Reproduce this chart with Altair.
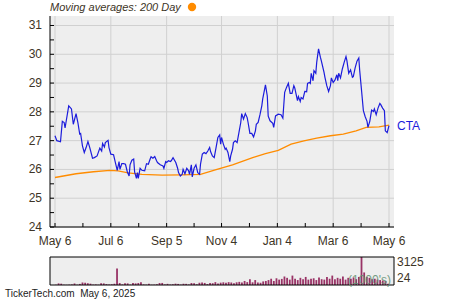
import altair as alt
import pandas as pd
import numpy as np

# ---------------- data ----------------
ticker = "CTA"
title_text = "Moving averages: 200 Day"
footer_text = "TickerTech.com\u00a0\u00a0May 6, 2025"
vol_unit_text = "(1000's)"

# days since May 6, 2024
price_day = [0, 2, 6, 8, 10, 11, 15, 18, 20, 23,
             25, 27, 28, 30, 32, 34, 36, 38, 41, 43,
             46, 49, 51, 52, 54, 55, 58, 59, 61, 64,
             66, 68, 70, 71, 73, 75, 77, 79, 81, 82,
             84, 86, 87, 89, 90, 91, 93, 95, 98, 100,
             102, 104, 105, 107, 109, 111, 112, 115, 118, 119,
             121, 122, 124, 126, 127, 129, 132, 134, 135, 137,
             139, 140, 142, 144, 146, 147, 149, 150, 152, 154,
             156, 158, 159, 161, 163, 165, 167, 169, 170, 172,
             174, 176, 178, 180, 181, 182, 184, 186, 187, 189,
             191, 192, 194, 195, 197, 199, 201, 203, 204, 206,
             208, 210, 211, 213, 215, 217, 219, 220, 222, 224,
             226, 227, 230, 232, 233, 235, 238, 239, 241, 244,
             247, 249, 251, 253, 255, 257, 259, 261, 262, 265,
             266, 268, 269, 271, 273, 275, 276, 278, 279, 280,
             282, 283, 285, 286, 288, 290, 291, 294, 295, 297,
             299, 301, 302, 304, 306, 308, 309, 310, 312, 314,
             316, 318, 319, 321, 323, 325, 326, 328, 330, 332,
             333, 335, 337, 339, 341, 342, 344, 346, 348, 349,
             351, 353, 355, 356, 358, 360, 361, 363, 365]

price_close = [27.17, 27.0, 26.96, 27.67, 27.63, 27.44, 28.21, 28.1, 27.57, 27.94,
               27.63, 27.23, 27.25, 26.82, 26.59, 26.76, 26.97, 26.76, 26.39, 26.41,
               26.47, 26.74, 26.64, 26.9, 26.78, 26.93, 27.01, 26.76, 26.53, 26.51,
               26.24, 25.97, 26.27, 26.0, 26.2, 26.2, 26.18, 25.92, 25.77, 26.16,
               26.32, 26.36, 25.91, 25.69, 25.89, 25.69, 26.04, 25.97, 25.95, 26.2,
               26.18, 26.36, 26.44, 26.39, 26.45, 26.3, 26.24, 26.16, 26.12, 26.04,
               26.27, 26.24, 26.3, 26.27, 26.3, 26.41, 26.24, 26.04, 25.89, 25.77,
               25.83, 26.0, 25.85, 26.04, 25.95, 25.83, 26.16, 25.74, 26.04, 26.16,
               25.89, 25.83, 26.18, 26.53, 26.59, 26.55, 26.64, 26.76, 26.62, 26.47,
               26.41, 26.76, 27.11, 27.2, 26.88, 27.11, 26.88, 26.7, 26.74, 26.59,
               26.27, 26.47, 26.7, 26.93, 26.99, 26.93, 27.28, 27.63, 27.94, 27.75,
               27.94, 27.8, 27.63, 27.25, 27.25, 27.13, 27.34, 27.57, 27.63, 27.9,
               28.21, 28.45, 28.94, 28.55, 27.85, 27.69, 27.6, 27.46, 27.86, 27.92,
               27.9, 27.78, 28.68, 28.85, 28.99, 28.64, 28.64, 28.91, 28.83, 28.39,
               28.53, 28.36, 28.5, 28.45, 28.71, 28.7, 28.99, 29.02, 28.99, 29.34,
               29.08, 29.43, 29.34, 29.72, 30.19, 29.9, 29.78, 29.37, 29.2, 28.91,
               28.71, 28.91, 29.18, 29.02, 29.11, 29.29, 29.08, 29.34, 29.18, 29.49,
               29.72, 29.92, 29.78, 29.34, 29.46, 29.2, 29.22, 29.53, 29.76, 29.87,
               29.43, 28.74, 28.04, 27.83, 27.67, 27.46, 27.67, 28.06, 28.01, 28.1,
               27.9, 28.13, 28.29, 28.25, 28.13, 28.04, 27.34, 27.28, 27.52]

ma_day = [0, 23, 42, 60, 69, 80, 95, 117, 138, 159, 177, 194,
          216, 230, 244, 258, 272, 286, 301, 315, 329, 340, 354, 365]
ma_200 = [25.72, 25.85, 25.92, 25.97, 25.95, 25.88, 25.83, 25.80, 25.81, 25.83, 26.0, 26.16,
          26.41, 26.55, 26.66, 26.88, 26.99, 27.09, 27.17, 27.23, 27.34, 27.46, 27.48, 27.54]

# volume, thousands (roughly every other trading day)
volume = [40, 180, 150, 30, 20, 40, 60, 170, 30, 120,
          280, 250, 200, 150, 40, 60, 30, 200, 180, 100,
          60, 80, 140, 1850, 220, 60, 200, 180, 40, 230,
          180, 220, 300, 60, 40, 140, 30, 40, 80, 220,
          230, 60, 130, 50, 80, 150, 120, 40, 140, 130,
          60, 220, 200, 80, 250, 280, 230, 100, 220, 200,
          320, 180, 260, 300, 250, 320, 280, 200, 300, 350,
          280, 450, 320, 650, 300, 550, 280, 250, 400, 450,
          550, 700, 450, 750, 600, 680, 950, 800, 600, 1050,
          700, 550, 800, 650, 900, 600, 700, 750, 550, 850,
          650, 600, 900, 700, 1050, 650, 800, 700, 950, 600,
          800, 700, 850, 650, 900, 3125, 1400, 900, 800, 650,
          700, 600, 550, 500, 450, 150]

x_tick_days = [0, 61, 122, 182, 243, 304, 365]
x_tick_labels = ["May 6", "Jul 6", "Sep 5", "Nov 4", "Jan 4", "Mar 6", "May 6"]
x_minor_days = [30.5, 91.5, 152, 212.5, 273.5, 334.5]
y_major = [24, 25, 26, 27, 28, 29, 30, 31]
y_minor = [24.5, 25.5, 26.5, 27.5, 28.5, 29.5, 30.5]
vol_axis_values = [24, 3125]
vol_axis_labels = ["24", "3125"]

# ---------------- layout / style ----------------
W, PH, VT, VB = 344, 211, 241, 269
LBL = "#3d3426"
FONT = "Liberation Sans"
BLUE = "#1c1cdc"
ORANGE = "#ff8c00"
VOLC = "#993366"
GRID = "#d0d0d0"

xs = alt.Scale(domain=[0, 365], nice=False, zero=False)
ys = alt.Scale(domain=[24, 31.33], range=[PH, 0], nice=False, zero=False)
vs = alt.Scale(domain=[0, 3125], range=[VB, VT], nice=False)

price_df = pd.DataFrame({"day": price_day, "price": price_close})
ma_df = pd.DataFrame({"day": ma_day, "ma": ma_200})
vol_df = pd.DataFrame({"day": np.linspace(1, 364, len(volume)), "vol": volume})
xt_df = pd.DataFrame({"day": x_tick_days, "label": x_tick_labels})
xall_df = pd.DataFrame({"day": x_tick_days + x_minor_days})
yall_df = pd.DataFrame({"v": y_major + y_minor})
ymaj_df = pd.DataFrame({"v": y_major, "label": [str(v) for v in y_major]})
vlab_df = pd.DataFrame({"v": vol_axis_values, "label": vol_axis_labels})
one = pd.DataFrame({"a": [0]})


def X(f):
    return alt.X(f, scale=xs, axis=None)


def Yp(f):
    return alt.Y(f, scale=ys, axis=None)


def Yv(f):
    return alt.Y(f, scale=vs, axis=None)


bg = alt.Chart(one).mark_rect(fill="#eeeeee").encode(
    x=alt.value(0), x2=alt.value(W), y=alt.value(0), y2=alt.value(PH))

ygrid = alt.Chart(ymaj_df).mark_rule(color=GRID, strokeWidth=1).encode(
    y=Yp("v:Q"), x=alt.value(0), x2=alt.value(W))

xgrid = alt.Chart(xt_df).mark_rule(color=GRID, strokeWidth=1).encode(
    x=X("day:Q"), y=alt.value(0), y2=alt.value(PH))

ma_line = alt.Chart(ma_df).mark_line(color=ORANGE, strokeWidth=1.3).encode(
    x=X("day:Q"), y=Yp("ma:Q"))

price_line = alt.Chart(price_df).mark_line(color=BLUE, strokeWidth=1.2).encode(
    x=X("day:Q"), y=Yp("price:Q"))

bottom_rule = alt.Chart(one).mark_rule(color="black", strokeWidth=1).encode(
    x=alt.value(0), x2=alt.value(W), y=alt.value(PH))

left_rule = alt.Chart(one).mark_rule(color="black", strokeWidth=1).encode(
    x=alt.value(0), y=alt.value(0), y2=alt.value(PH))

xticks = alt.Chart(xall_df).mark_rule(color="black", strokeWidth=1).encode(
    x=X("day:Q"), y=alt.value(PH - 4), y2=alt.value(PH))

yticks = alt.Chart(yall_df).mark_rule(color="black", strokeWidth=1).encode(
    y=Yp("v:Q"), x=alt.value(0), x2=alt.value(4))

ylabels = alt.Chart(ymaj_df).mark_text(
    fontSize=12, font=FONT, color=LBL, baseline="middle", align="right", dx=-8).encode(
    x=alt.value(0), y=Yp("v:Q"), text="label:N")

xlabels = alt.Chart(xt_df).mark_text(
    fontSize=12, font=FONT, color=LBL, baseline="middle", align="center").encode(
    x=X("day:Q"), y=alt.value(PH + 14), text="label:N")

cta = alt.Chart(pd.DataFrame({"t": [ticker], "p": [price_close[-1]]})).mark_text(
    fontSize=12, font=FONT, color=BLUE, baseline="middle", align="left").encode(
    x=alt.value(W + 3), y=Yp("p:Q"), text="t:N")

title = alt.Chart(pd.DataFrame({"t": [title_text]})).mark_text(
    fontSize=11, font=FONT, fontStyle="italic", color=LBL, baseline="middle", align="left").encode(
    x=alt.value(0), y=alt.value(-8), text="t:N")

dot = alt.Chart(one).mark_circle(color=ORANGE, opacity=1, size=70).encode(
    x=alt.value(142), y=alt.value(-9))

footer = alt.Chart(pd.DataFrame({"t": [footer_text]})).mark_text(
    fontSize=10, font=FONT, color="#222222", baseline="middle", align="left").encode(
    x=alt.value(-45), y=alt.value(278), text="t:N")

vol_bg = alt.Chart(one).mark_rect(fill="#eeeeee").encode(
    x=alt.value(0), x2=alt.value(W), y=alt.value(VT), y2=alt.value(VB))

vol_bars = alt.Chart(vol_df).mark_bar(color=VOLC, size=1.8).encode(
    x=X("day:Q"), y=Yv("vol:Q"))

vol_border = alt.Chart(one).mark_rect(fillOpacity=0, stroke="black", strokeWidth=1).encode(
    x=alt.value(0), x2=alt.value(W), y=alt.value(VT), y2=alt.value(VB))

vol_labels = alt.Chart(vlab_df).mark_text(
    fontSize=12, font=FONT, color=LBL, align="left", dx=3,
    baseline=alt.ExprRef("datum.v > 1000 ? 'top' : 'bottom'")).encode(
    x=alt.value(W), y=Yv("v:Q"), text="label:N")

vol_unit = alt.Chart(pd.DataFrame({"t": [vol_unit_text]})).mark_text(
    fontSize=12, font=FONT, color="#5f8f70", opacity=0.85, baseline="middle", align="right").encode(
    x=alt.value(W - 3), y=alt.value(VB - 5), text="t:N")

chart = alt.layer(
    bg, ygrid, xgrid, ma_line, price_line, bottom_rule, left_rule,
    xticks, yticks, ylabels, xlabels, cta, title, dot, footer,
    vol_bg, vol_bars, vol_border, vol_labels, vol_unit,
).resolve_scale(y="independent").properties(
    width=W, height=VB,
    autosize=alt.AutoSizeParams(type="none"),
    padding={"left": 50, "top": 16, "right": 56, "bottom": 15},
    background="white",
).configure_view(stroke=None)

chart.save("out.html", embed_options={"renderer": "svg", "actions": False})
